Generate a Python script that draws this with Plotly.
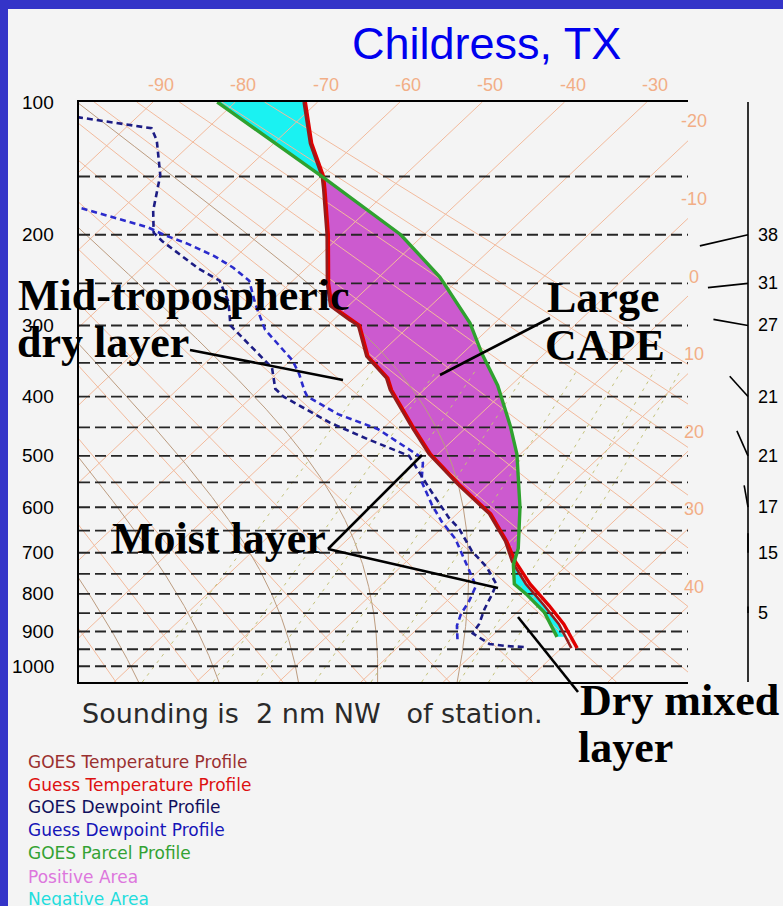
import numpy as np
import plotly.graph_objects as go

# ---------------- data ----------------
temp_goes_p = [100, 126, 150, 160, 200, 250, 276, 293, 300, 341, 372, 390, 447, 497, 555, 614, 674, 720, 775, 830, 880, 947]
temp_goes_t = [-71.7, -65.6, -59.9, -58.1, -51.8, -45.5, -42.2, -38.1, -36.3, -31.3, -26.1, -24.1, -17.0, -11.1, -3.6, 3.9, 9.4, 12.8, 17.4, 22.4, 26.6, 31.2]
temp_guess_p = [100, 126, 150, 160, 200, 250, 276, 293, 300, 341, 372, 390, 447, 497, 555, 614, 674, 720, 775, 830, 880, 947]
temp_guess_t = [-71.5, -65.4, -59.7, -57.9, -51.6, -45.3, -42.0, -37.9, -36.1, -31.1, -25.9, -23.9, -16.8, -10.9, -3.4, 4.1, 9.6, 13.2, 17.9, 23.0, 27.2, 31.9]
parcel_p = [100, 150, 200, 243, 297, 338, 383, 447, 497, 600, 690, 728, 775, 800, 848, 915]
parcel_t = [-82.2, -59.9, -42.8, -32.6, -23.0, -17.5, -11.6, -4.9, -0.4, 6.8, 11.9, 13.4, 16.0, 18.7, 23.3, 28.0]
dew_goes_p = [109, 113, 116, 124, 149, 178, 198, 206, 219, 234, 247, 271, 300, 326, 357, 388, 400, 442, 470, 500,
              568, 623, 645, 696, 734, 775, 800, 839, 880, 905, 935, 941, 944]
dew_goes_t = [-97.3, -91.5, -86.8, -84.6, -79.7, -76.0, -73.1, -71.0, -67.2, -63.0, -58.9, -55.1, -51.8, -46.8, -41.3, -38.2, -36.2, -27.2, -20.5, -13.3,
              -6.0, -0.4, 2.1, 6.6, 10.5, 13.8, 14.6, 15.6, 16.9, 17.3, 20.7, 23.0, 25.5]
dew_guess_p = [176, 185, 193, 200, 209, 221, 233, 247, 274, 305, 347, 366, 391, 400, 428, 453, 500, 513, 548, 594,
               630, 668, 720, 760, 780, 818, 853, 884, 932]
dew_guess_t = [-85.0, -79.3, -74.5, -71.6, -67.4, -62.7, -58.9, -55.3, -51.5, -47.1, -39.7, -37.2, -34.4, -33.3, -27.3, -20.5, -12.1, -10.7, -8.5, -4.3,
               -0.9, 3.0, 7.1, 10.1, 11.6, 12.7, 13.4, 14.4, 16.7]
wind_p = [200, 250, 300, 400, 500, 600, 700, 850]
wind_spd = [38, 31, 27, 21, 21, 17, 15, 5]
wind_dir = [257, 264, 280, 318, 336, 350, 360, 360]
pressure_ticks = [100, 200, 300, 400, 500, 600, 700, 800, 900, 1000]
isobar_levels = list(range(150, 1001, 50))
top_temp_labels = [-90, -80, -70, -60, -50, -40, -30]
right_temp_labels = [-20, -10, 0, 10, 20, 30, 40]
isotherm_values = list(range(-130, 71, 10))
dry_theta_values = list(range(230, 381, 10))
moist_t1000_values = [-20, -10, 0, 10, 20]
mixing_ratio_values = [1, 2, 3, 5, 8, 12, 16, 20]
legend_items = ["GOES Temperature Profile", "Guess Temperature Profile", "GOES Dewpoint Profile",
                "Guess Dewpoint Profile", "GOES Parcel Profile", "Positive Area", "Negative Area"]

# ---------------- diagram geometry ----------------
KAPPA = 0.286
P_TOP, P_BOT = 100.0, 1048.0
SKEW = 72.7
X_RANGE = [-99.0, -25.0]
W, H = 783, 906
ML, MR, MT, MB = 79, 0, 102, 224
PLOT_W = 688 - ML
AREA_W = W - ML - MR


def Yp(p):
    return np.asarray(p, dtype=float) ** KAPPA


Y100, Y1000, YBOT = Yp(100.0), Yp(1000.0), Yp(P_BOT)


def skewX(T, p):
    return np.asarray(T, dtype=float) - SKEW * (Yp(p) - Y100) / (Y1000 - Y100)


def PX(px):
    return (px - ML) / AREA_W


def PY(py):
    return 1 - (py - MT) / (H - MT - MB)


fig = go.Figure()


def add_line(x, y, color, width, dash="solid", xaxis="x"):
    fig.add_trace(go.Scatter(x=x, y=y, mode="lines", xaxis=xaxis, yaxis="y",
                             line=dict(color=color, width=width, dash=dash),
                             hoverinfo="skip", showlegend=False))


# ---------------- positive / negative areas ----------------
yg = np.linspace(Yp(100), Yp(max(parcel_p)), 800)
pg = yg ** (1 / KAPPA)
t_env = np.interp(yg, Yp(temp_goes_p), temp_goes_t)
t_par = np.interp(yg, Yp(parcel_p), parcel_t)
sign = np.sign(t_par - t_env)
start = 0
for i in range(1, len(yg) + 1):
    if i == len(yg) or sign[i] != sign[start]:
        seg = slice(start, i)
        xs = np.concatenate([skewX(t_env[seg], pg[seg]), skewX(t_par[seg], pg[seg])[::-1]])
        ys = np.concatenate([yg[seg], yg[seg][::-1]])
        col = "#CC5ACF" if sign[start] > 0 else "#1AF2F2"
        fig.add_trace(go.Scatter(x=xs, y=ys, mode="lines", fill="toself", fillcolor=col,
                                 line=dict(width=0, color=col), hoverinfo="skip", showlegend=False))
        start = i

# ---------------- background lines ----------------
p_full = np.linspace(P_TOP, P_BOT, 120)
gx, gy = [], []
for T in isotherm_values:
    gx += list(skewX(np.full(2, T), [P_TOP, P_BOT])) + [None]
    gy += [Y100, YBOT, None]
for th in dry_theta_values:
    tt = th * (p_full / 1000.0) ** KAPPA - 273.15
    gx += list(skewX(tt, p_full)) + [None]
    gy += list(Yp(p_full)) + [None]
add_line(gx, gy, "#F2BA9C", 1)


def moist_rate(T, p):
    es = 6.112 * np.exp(17.67 * (T - 273.15) / (T - 29.65))
    rs = 0.622 * es / (p - es)
    return (287.04 * T + 2.501e6 * rs) / (p * (1005.7 + 2.501e6 ** 2 * rs * 0.622 / (287.04 * T ** 2)))


def integrate(T0, ps):
    out = [T0]
    T = T0
    for a, b in zip(ps[:-1], ps[1:]):
        dp = b - a
        k1 = moist_rate(T, a)
        k2 = moist_rate(T + k1 * dp / 2, a + dp / 2)
        T = T + k2 * dp
        out.append(T)
    return np.array(out)


mx, my = [], []
for t0 in moist_t1000_values:
    up = np.arange(1000.0, 99.0, -2.0)
    dn = np.arange(1000.0, P_BOT + 2, 2.0)
    Tu = integrate(t0 + 273.15, up) - 273.15
    Td = integrate(t0 + 273.15, dn) - 273.15
    pp = np.concatenate([dn[::-1], up[1:]])
    tt = np.concatenate([Td[::-1], Tu[1:]])
    mx += list(skewX(tt, pp)) + [None]
    my += list(Yp(pp)) + [None]
add_line(mx, my, "#BC9C80", 1)

wx, wy = [], []
p_mix = np.linspace(P_BOT, 360, 60)
for w in mixing_ratio_values:
    e = w * p_mix / (622.0 + w)
    lg = np.log(e / 6.112)
    td = 243.5 * lg / (17.67 - lg)
    wx += list(skewX(td, p_mix)) + [None]
    wy += list(Yp(p_mix)) + [None]
add_line(wx, wy, "#C4C27A", 1, dash="3px,5px")

ix, iy = [], []
for p in isobar_levels:
    ix += [X_RANGE[0], X_RANGE[1], None]
    iy += [float(Yp(p)), float(Yp(p)), None]
add_line(ix, iy, "#262626", 1.9, dash="11px,5px")

# ---------------- profiles ----------------
add_line(skewX(dew_guess_t, dew_guess_p), Yp(dew_guess_p), "#2B2BCC", 2.6, dash="6px,4px")
add_line(skewX(dew_goes_t, dew_goes_p), Yp(dew_goes_p), "#1C1C84", 2.6, dash="6px,4px")
add_line(skewX(temp_guess_t, temp_guess_p), Yp(temp_guess_p), "#E00000", 3.4)
add_line(skewX(temp_goes_t, temp_goes_p), Yp(temp_goes_p), "#951C1C", 2.6)
add_line(skewX(parcel_t, parcel_p), Yp(parcel_p), "#2FA22F", 3.4)

# ---------------- wind column ----------------
PX_PER_KT = 1.3
dY_per_px = (YBOT - Y100) / (H - MT - MB)
add_line([0, 0], [Y100, YBOT], "black", 1.6, xaxis="x2")
sx, sy = [], []
for p, s, d in zip(wind_p, wind_spd, wind_dir):
    east = s * np.sin(np.radians(d))
    north = s * np.cos(np.radians(d))
    y0 = float(Yp(p))
    sx += [0, east, None]
    sy += [y0, y0 - north * PX_PER_KT * dY_per_px, None]
add_line(sx, sy, "black", 1.6, xaxis="x2")

annotations = []
for p, s in zip(wind_p, wind_spd):
    annotations.append(dict(x=8 / PX_PER_KT, y=float(Yp(p)), xref="x2", yref="y", text=str(s),
                            showarrow=False, xanchor="left", yanchor="middle",
                            font=dict(family="Liberation Sans, Arial", size=18, color="black")))

for p in pressure_ticks:
    annotations.append(dict(x=PX(56), y=float(Yp(p)), xref="paper", yref="y", text=str(p),
                            showarrow=False, xanchor="right", yanchor="middle",
                            font=dict(family="Liberation Sans, Arial", size=19, color="black")))

ORANGE_TXT = "#F2AE86"
for T in top_temp_labels:
    annotations.append(dict(x=T, y=PY(85), xref="x", yref="paper", text=str(T), xshift=8,
                            showarrow=False, xanchor="center", yanchor="middle",
                            font=dict(family="Liberation Sans, Arial", size=18, color=ORANGE_TXT)))
for T in right_temp_labels:
    yhit = Y100 + (T - X_RANGE[1]) * (Y1000 - Y100) / SKEW
    annotations.append(dict(x=PX(694), y=float(yhit), xref="paper", yref="y", text=str(T), yshift=19.5,
                            showarrow=False, xanchor="center", yanchor="middle",
                            font=dict(family="Liberation Sans, Arial", size=18, color=ORANGE_TXT)))

annotations.append(dict(x=PX(486), y=PY(44), xref="paper", yref="paper", text="Childress, TX",
                        showarrow=False, xanchor="center", yanchor="middle",
                        font=dict(family="Liberation Sans, Arial", size=45, color="#0000EE")))
annotations.append(dict(x=PX(80), y=PY(713), xref="paper", yref="paper",
                        text="Sounding is\u00a0\u00a02 nm NW\u00a0\u00a0\u00a0of station.",
                        showarrow=False, xanchor="left", yanchor="middle",
                        font=dict(family="DejaVu Sans", size=27, color="#2A2A2A")))

legend_colors = ["#9A3030", "#DD1010", "#10105E", "#1515B8", "#33A233", "#DD77DD", "#22DDDD"]
legend_y = [762, 785, 807, 830, 853, 877, 899]
for txt, col, yy in zip(legend_items, legend_colors, legend_y):
    annotations.append(dict(x=PX(26), y=PY(yy), xref="paper", yref="paper", text=txt,
                            showarrow=False, xanchor="left", yanchor="middle",
                            font=dict(family="DejaVu Sans", size=17, color=col)))

SERIF = dict(family="Liberation Serif, Times New Roman", size=44, color="black")
callouts = [("<b>Mid-tropospheric</b>", 16, 295), ("<b>dry layer</b>", 15, 342),
            ("<b>Large</b>", 545, 297), ("<b>CAPE</b>", 543, 345),
            ("<b>Moist layer</b>", 110, 538), ("<b>Dry mixed</b>", 578, 700), ("<b>layer</b>", 576, 747)]
for txt, x, y in callouts:
    annotations.append(dict(x=PX(x), y=PY(y), xref="paper", yref="paper", text=txt,
                            showarrow=False, xanchor="left", yanchor="middle", font=SERIF))

shapes = []
for (x0, y0, x1, y1) in [(190, 350, 343, 380), (550, 318, 440, 375), (328, 549, 422, 455),
                         (328, 549, 498, 588), (518, 617, 578, 692)]:
    shapes.append(dict(type="line", xref="paper", yref="paper", x0=PX(x0), y0=PY(y0), x1=PX(x1), y1=PY(y1),
                       line=dict(color="black", width=2.6)))
BLUE = "#3434C8"
shapes.append(dict(type="rect", xref="paper", yref="paper", x0=PX(0), x1=PX(W), y0=PY(0), y1=PY(9),
                   fillcolor=BLUE, line=dict(width=0), layer="above"))
shapes.append(dict(type="rect", xref="paper", yref="paper", x0=PX(0), x1=PX(8), y0=PY(0), y1=PY(H),
                   fillcolor=BLUE, line=dict(width=0), layer="above"))

BG = "#F4F4F4"
fig.update_layout(
    width=W, height=H, margin=dict(l=ML, r=MR, t=MT, b=MB),
    paper_bgcolor=BG, plot_bgcolor=BG, showlegend=False,
    xaxis=dict(domain=[0, PLOT_W / AREA_W], range=X_RANGE, showgrid=False, zeroline=False,
               showticklabels=False, ticks="", showline=True, mirror=True, linecolor="black", linewidth=2),
    xaxis2=dict(domain=[PLOT_W / AREA_W, 1], anchor="y", range=[-(748 - 688) / PX_PER_KT, (783 - 748) / PX_PER_KT],
                showgrid=False, zeroline=False, showticklabels=False, ticks="", showline=False),
    yaxis=dict(range=[float(YBOT), float(Y100)], showgrid=False, zeroline=False, showticklabels=False,
               ticks="", showline=True, linecolor="black", linewidth=2),
    annotations=annotations, shapes=shapes,
)

fig.write_html("out.html")
